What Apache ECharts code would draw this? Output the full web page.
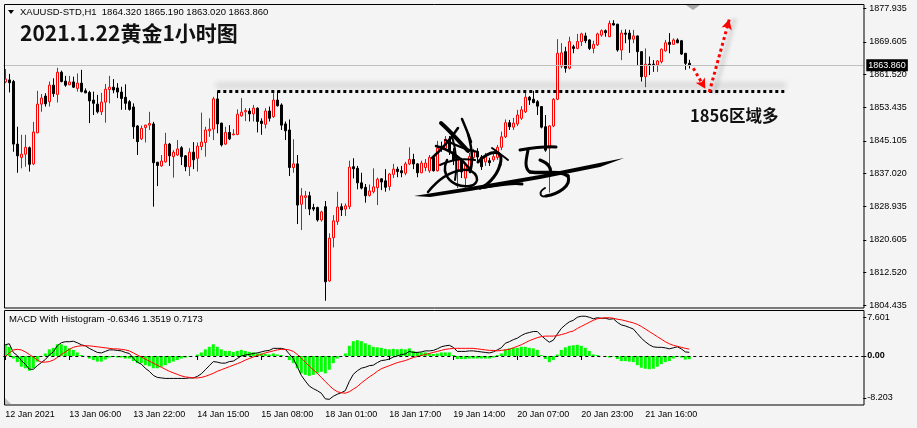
<!DOCTYPE html>
<html><head><meta charset="utf-8">
<script src="https://cdn.jsdelivr.net/npm/echarts@6/dist/echarts.min.js"></script>
<style>html,body{margin:0;padding:0;background:#f4f4f4;}#c{width:917px;height:428px;}</style>
</head><body><div id="c"></div>
<script>
// ---- data ----
const tickLabels = ['12 Jan 2021','13 Jan 06:00','13 Jan 22:00','14 Jan 15:00','15 Jan 08:00','18 Jan 01:00','18 Jan 17:00','19 Jan 14:00','20 Jan 07:00','20 Jan 23:00','21 Jan 16:00'];
const priceTicks = [1877.935,1869.605,1861.520,1853.435,1845.105,1837.020,1828.935,1820.605,1812.520,1804.435];
const macdTicks = [7.601, 0, -8.203];

const opens = [
1859.7,1860.2,1859.8,1844.3,1841.0,1841.8,1843.4,1839.4,1847.1,1854.2,
1856.2,1854.8,1858.9,1856.6,1862.1,1859.9,1859.0,1859.7,1858.1,1859.4,
1857.5,1857.1,1855.2,1854.2,1852.3,1854.7,1857.8,1858.4,1858.2,1857.2,
1855.9,1854.8,1853.5,1848.8,1845.6,1848.4,1849.0,1849.3,1839.8,1838.9,
1839.9,1844.3,1841.2,1841.6,1843.4,1841.4,1838.7,1842.3,1840.8,1843.7,
1844.7,1847.6,1848.0,1855.5,1849.5,1844.3,1847.2,1846.6,1846.7,1851.3,
1852.3,1852.5,1851.8,1853.2,1850.0,1849.2,1852.5,1851.1,1855.2,1854.0,
1849.3,1847.8,1838.5,1839.4,1829.4,1831.1,1831.5,1828.6,1828.6,1825.5,
1828.8,1810.4,1821.1,1825.1,1828.8,1828.2,1828.8,1838.7,1838.3,1834.7,
1833.6,1831.6,1832.5,1833.5,1835.7,1835.2,1833.8,1836.8,1838.1,1837.7,
1837.1,1839.4,1840.5,1839.4,1837.2,1838.5,1837.7,1841.0,1837.7,1843.8,
1843.3,1845.5,1842.4,1837.9,1840.4,1835.9,1838.7,1841.0,1842.3,1841.1,
1839.9,1840.2,1840.4,1841.0,1843.5,1846.1,1849.6,1848.5,1849.3,1850.7,
1852.3,1855.9,1855.4,1854.8,1853.6,1848.6,1843.3,1848.8,1855.4,1863.6,
1867.2,1863.1,1868.4,1868.0,1869.7,1871.1,1870.1,1868.0,1868.9,1871.3,
1872.4,1870.9,1874.2,1874.0,1867.6,1871.8,1871.8,1870.3,1871.1,1867.2,
1861.0,1864.1,1864.1,1863.9,1864.7,1867.4,1869.5,1869.0,1870.1,1869.9,
1866.8,1864.32];
const highs = [
1862.9,1861.7,1860.2,1848.6,1846.6,1846.6,1843.7,1849.8,1857.5,1856.7,
1856.9,1859.8,1860.6,1863.2,1862.5,1861.2,1861.2,1861.0,1861.8,1862.7,
1858.1,1857.5,1857.3,1856.5,1857.0,1859.2,1861.2,1860.4,1859.4,1858.5,
1859.1,1855.2,1854.4,1849.0,1848.9,1849.1,1852.3,1849.8,1839.9,1841.6,
1847.1,1844.6,1842.8,1845.3,1843.8,1841.6,1843.3,1844.8,1844.7,1852.1,
1848.6,1850.7,1856.0,1857.3,1849.6,1848.6,1849.0,1848.0,1852.9,1855.7,
1853.2,1853.2,1854.0,1853.4,1850.7,1853.2,1853.6,1856.9,1857.5,1854.4,
1849.9,1850.4,1845.5,1841.6,1833.4,1832.7,1832.5,1829.5,1828.8,1827.8,
1830.2,1822.2,1826.7,1832.5,1829.6,1829.6,1840.2,1840.8,1838.9,1837.2,
1834.4,1834.3,1838.3,1836.0,1835.8,1838.1,1837.1,1839.4,1838.7,1838.9,
1839.9,1843.5,1841.9,1839.6,1840.2,1840.6,1841.6,1841.6,1845.1,1844.9,
1846.3,1846.3,1843.3,1841.6,1840.9,1839.6,1842.1,1843.1,1843.3,1841.6,
1842.1,1840.9,1842.1,1844.1,1847.4,1850.4,1850.3,1850.8,1852.8,1853.7,
1857.0,1856.2,1857.5,1855.2,1853.7,1851.5,1849.0,1855.7,1870.3,1869.3,
1868.4,1870.9,1868.9,1871.6,1871.9,1871.9,1870.3,1869.9,1871.9,1872.7,
1872.7,1874.9,1875.0,1874.1,1872.6,1872.7,1872.6,1872.6,1871.2,1867.3,
1868.0,1866.0,1865.1,1865.1,1868.0,1870.1,1871.8,1870.5,1870.5,1870.1,
1866.8,1865.19];
const lows = [
1859.4,1857.1,1842.4,1837.2,1838.3,1838.7,1837.5,1839.1,1847.0,1852.3,
1853.6,1853.6,1856.0,1854.6,1859.6,1858.5,1858.9,1858.2,1857.3,1857.1,
1856.9,1849.5,1851.5,1851.9,1851.5,1849.6,1854.4,1856.9,1855.7,1852.8,
1852.8,1852.6,1845.6,1841.6,1845.3,1844.7,1847.8,1828.8,1833.9,1838.7,
1839.7,1838.9,1836.0,1841.4,1839.1,1837.6,1836.4,1838.1,1837.5,1842.8,
1841.2,1846.1,1845.3,1847.0,1843.7,1844.1,1845.3,1846.5,1846.5,1851.1,
1850.0,1849.9,1849.9,1847.2,1846.6,1848.2,1849.9,1850.8,1853.6,1847.8,
1845.3,1836.4,1837.2,1824.5,1823.0,1828.2,1826.7,1827.7,1825.1,1825.1,
1805.5,1810.2,1818.7,1824.3,1826.5,1826.5,1828.2,1835.8,1833.1,1833.1,
1829.8,1831.3,1832.1,1829.2,1832.9,1832.5,1832.8,1835.9,1836.1,1836.1,
1836.6,1839.1,1838.1,1836.1,1837.1,1837.6,1837.2,1837.5,1837.5,1842.4,
1842.8,1841.6,1839.1,1833.4,1835.9,1833.4,1837.9,1840.4,1839.9,1837.9,
1838.9,1838.9,1839.9,1840.4,1842.8,1845.8,1847.8,1847.8,1848.8,1850.3,
1852.0,1854.0,1854.4,1851.5,1848.2,1842.4,1832.3,1848.5,1855.2,1863.1,
1862.0,1862.8,1866.8,1867.8,1868.6,1869.3,1867.6,1866.8,1868.6,1870.9,
1870.9,1870.8,1873.7,1867.2,1865.1,1869.3,1866.9,1869.3,1863.9,1859.8,
1858.4,1861.4,1862.2,1862.2,1864.3,1867.2,1866.8,1868.9,1869.3,1866.4,
1862.7,1863.02];
const closes = [
1860.4,1859.5,1844.3,1841.4,1841.8,1843.5,1839.3,1847.3,1854.2,1855.7,
1854.3,1858.9,1856.8,1862.1,1859.8,1858.9,1859.7,1858.4,1859.4,1857.3,
1857.0,1855.0,1854.4,1852.3,1854.7,1857.9,1858.4,1857.7,1857.2,1855.6,
1854.4,1852.9,1848.6,1844.9,1848.2,1849.0,1849.4,1839.7,1839.0,1840.1,
1844.3,1841.4,1842.3,1843.1,1841.2,1838.7,1842.3,1840.4,1843.8,1844.8,
1847.8,1848.0,1855.5,1849.3,1844.1,1847.2,1845.6,1846.8,1851.7,1852.2,
1852.6,1851.8,1853.2,1849.9,1849.4,1852.5,1850.7,1855.2,1853.8,1849.0,
1847.6,1838.5,1839.4,1829.2,1831.5,1831.5,1828.2,1828.2,1825.5,1827.5,
1810.2,1821.0,1825.3,1828.7,1828.0,1829.0,1838.6,1838.2,1834.7,1833.4,
1831.5,1832.7,1833.7,1835.6,1834.9,1833.6,1836.9,1838.1,1837.5,1837.2,
1839.4,1840.5,1839.4,1837.2,1839.6,1839.6,1841.0,1837.7,1843.3,1843.3,
1845.5,1842.4,1840.4,1840.4,1837.4,1839.1,1841.2,1842.4,1841.1,1838.7,
1841.2,1839.7,1841.2,1843.5,1846.1,1849.6,1848.6,1849.5,1851.5,1852.8,
1855.9,1855.2,1854.6,1853.7,1848.5,1842.8,1848.8,1855.4,1866.8,1866.9,
1863.1,1869.7,1868.0,1869.7,1871.6,1869.9,1868.0,1869.0,1871.6,1872.4,
1871.9,1874.2,1873.8,1867.6,1871.8,1871.5,1870.3,1871.1,1867.2,1861.0,
1864.1,1863.9,1864.0,1864.9,1867.8,1869.4,1869.0,1870.1,1869.4,1866.6,
1864.3,1863.86];
const macdLine = [
2.2,2.4,0.7,0.1,-0.9,-1.6,-2.6,-2.6,-1.9,-1.3,
-0.7,0.2,0.8,2.0,2.6,2.8,2.8,2.9,2.6,2.2,
2.0,1.5,1.1,0.7,0.6,0.9,1.2,1.2,1.1,1.0,
0.7,0.5,-0.4,-1.2,-1.6,-2.4,-3.0,-3.8,-4.2,-4.3,
-4.4,-4.4,-4.4,-4.4,-4.4,-4.4,-4.3,-4.3,-4.0,-3.5,
-2.7,-1.9,-1.1,-1.2,-1.4,-1.4,-1.1,-1.0,-0.5,0.0,
0.2,0.3,0.5,0.6,0.8,1.0,1.1,1.5,1.5,1.5,
1.3,0.4,-0.5,-2.1,-3.8,-4.9,-5.9,-6.4,-6.8,-7.3,
-8.4,-8.5,-7.9,-7.5,-7.2,-6.8,-5.0,-3.6,-2.9,-2.4,
-2.2,-1.9,-1.8,-1.3,-0.9,-0.8,-0.6,-0.2,0.0,0.3,
0.4,0.9,0.7,0.7,0.8,1.0,1.0,1.1,1.4,1.8,
2.0,2.1,1.7,0.9,0.9,0.9,1.0,1.0,0.9,0.8,
0.7,0.6,0.8,1.2,1.6,2.5,2.8,3.2,3.5,4.0,
4.4,4.6,4.8,4.8,4.0,3.3,2.7,3.1,4.3,5.4,
6.1,6.7,7.0,7.6,7.8,7.8,7.6,7.3,7.5,7.4,
7.4,7.2,7.3,6.6,6.1,5.9,5.6,5.3,4.4,3.5,
2.8,2.2,1.8,1.7,1.7,1.6,1.4,1.6,1.8,1.4,
0.8,0.7173];
const signalLine = [
-0.1,0.6,1.2,1.3,1.2,0.8,0.3,-0.2,-0.8,-1.2,
-1.2,-1.1,-0.8,-0.3,0.3,0.8,1.3,1.7,1.9,2.0,
2.0,2.0,1.9,1.8,1.7,1.6,1.5,1.4,1.4,1.3,
1.2,1.0,0.6,0.2,-0.2,-0.6,-1.0,-1.4,-1.8,-2.2,
-2.6,-3.0,-3.3,-3.6,-3.9,-4.1,-4.2,-4.3,-4.3,-4.2,
-4.0,-3.7,-3.4,-3.0,-2.7,-2.4,-2.1,-1.8,-1.5,-1.2,
-0.8,-0.5,-0.2,0.1,0.3,0.6,0.8,1.0,1.2,1.3,
1.3,1.2,0.9,0.3,-0.4,-1.2,-2.0,-2.7,-3.4,-4.2,
-5.0,-5.8,-6.5,-7.0,-7.2,-7.3,-7.0,-6.5,-6.0,-5.3,
-4.7,-4.1,-3.6,-3.0,-2.5,-2.2,-1.9,-1.6,-1.3,-1.1,
-0.9,-0.6,-0.3,-0.1,0.1,0.3,0.5,0.7,0.9,1.1,
1.3,1.4,1.5,1.5,1.5,1.5,1.5,1.5,1.4,1.3,
1.2,1.1,1.1,1.0,1.1,1.2,1.3,1.6,1.9,2.2,
2.6,3.0,3.3,3.6,3.8,3.9,3.9,3.9,4.0,4.2,
4.4,4.7,4.9,5.4,5.8,6.2,6.6,7.0,7.3,7.4,
7.5,7.5,7.4,7.2,7.1,6.9,6.7,6.5,6.2,5.8,
5.3,4.8,4.3,3.8,3.3,2.8,2.4,2.1,1.9,1.7,
1.5,1.3519];
const histogram = [
2.3,1.8,-0.5,-1.2,-2.1,-2.4,-2.9,-2.4,-1.1,-0.1,
0.5,1.3,1.6,2.3,2.3,2.0,1.5,1.2,0.7,0.2,
0,-0.5,-0.8,-1.1,-1.1,-0.7,-0.3,-0.2,-0.3,-0.3,
-0.5,-0.5,-1.0,-1.4,-1.4,-1.8,-2.0,-2.4,-2.4,-2.1,
-1.8,-1.4,-1.1,-0.8,-0.5,-0.3,-0.1,0,0.3,0.7,
1.3,1.8,2.3,1.8,1.3,1.0,1.0,0.8,1.0,1.2,
1.0,0.8,0.7,0.5,0.5,0.4,0.3,0.5,0.3,0.2,
0,-0.8,-1.4,-2.4,-3.4,-3.7,-3.9,-3.7,-3.4,-3.1,
-3.4,-2.7,-1.4,-0.5,0,0.5,2.0,2.9,3.1,2.9,
2.5,2.2,1.8,1.7,1.6,1.4,1.3,1.4,1.3,1.4,
1.3,1.5,1.0,0.8,0.7,0.7,0.5,0.4,0.5,0.7,
0.7,0.7,0.2,-0.6,-0.6,-0.6,-0.5,-0.5,-0.5,-0.5,
-0.5,-0.5,-0.3,0.2,0.5,1.3,1.5,1.6,1.6,1.8,
1.8,1.6,1.5,1.2,0.2,-0.6,-1.2,-0.8,0.3,1.2,
1.7,2.0,2.1,2.2,2.0,1.6,1.0,0.3,0.2,0,
-0.1,-0.3,-0.1,-0.6,-1.0,-1.0,-1.1,-1.2,-1.8,-2.3,
-2.5,-2.6,-2.5,-2.1,-1.6,-1.2,-1.0,-0.5,-0.1,-0.3,
-0.7,-0.6346];
const levelPrice = 1857.4;      // dotted support line
const lastPrice = 1863.86;

// ---- layout ----
const SLOTS = 215, EVERY = 16, N = opens.length;
const categories = Array.from({length: SLOTS}, (_, i) => String(i));
const showTick = (i) => i < N && i % EVERY === 0;
const FONT = 'Liberation Sans';
const candleData = opens.map((o, i) => [o, closes[i], lows[i], highs[i]]);

// handwritten signature strokes (decoration, pixel space)
const sigStrokes = [
  [441,123,450,131,458,140,468,151,4],
  [462,119,465,126,468,133,471,142,2.5],
  [458,128,450,140,441,150,432,158,2.5],
  [436,146,450,150,462,158,470,170,2.5],
  [445,140,455,145,465,150,478,152,2],
  [452,136,456,150,458,165,455,180,2],
  [440,165,450,160,462,158,475,160,2],
  [468,134,472,148,474,160,470,172,2.5],
  [447,160,440,175,452,188,470,186,2.5],
  [470,186,482,184,478,168,462,170,2.5],
  [462,170,448,172,436,182,428,192,2.5],
  [478,162,490,150,505,148,500,165,3],
  [500,165,496,178,486,186,480,188,3],
  [480,188,495,186,510,182,522,184,3],
  [492,148,498,152,503,156,508,160,2],
  [520,150,532,148,545,146,556,147,3],
  [528,150,526,160,524,168,530,172,3],
  [530,172,545,174,560,170,568,176,3.5],
  [568,176,572,186,558,194,546,196,3],
  [546,196,540,198,538,192,545,188,2],
  [540,160,548,163,552,168,550,175,3]
];
const sigGraphics = sigStrokes.map(s => ({
  type: 'bezierCurve', z: 110,
  shape: {x1: s[0], y1: s[1], cpx1: s[2], cpy1: s[3], cpx2: s[4], cpy2: s[5], x2: s[6], y2: s[7]},
  style: {fill: 'none', stroke: '#000', lineWidth: s[8], lineCap: 'round'}
}));
sigGraphics.push({type: 'polygon', z: 110,
  shape: {points: [[414,196],[470,187],[540,175],[624,158],[600,167],[540,179],[470,191],[430,197]]},
  style: {fill: '#000'}});

const chart = echarts.init(document.getElementById('c'), null, {renderer: 'canvas'});
chart.setOption({
  animation: false,
  backgroundColor: '#f4f4f4',
  grid: [
    {left: 3.3, width: 860, top: 4.3, height: 304, show: false},
    {left: 3.3, width: 860, top: 310, height: 95, show: false}
  ],
  xAxis: [
    {type: 'category', gridIndex: 0, data: categories, boundaryGap: true,
     axisLine: {show: false}, axisTick: {show: false}, axisLabel: {show: false}, splitLine: {show: false}},
    {type: 'category', gridIndex: 1, data: categories, boundaryGap: true,
     axisLine: {show: false},
     axisTick: {show: true, alignWithLabel: true, length: 4, interval: (i) => showTick(i), lineStyle: {color: '#000'}},
     axisLabel: {show: true, interval: (i) => showTick(i), align: 'left', margin: 5, fontSize: 9, fontFamily: FONT, color: '#000',
       formatter: (v, i) => showTick(i) ? tickLabels[i / EVERY] : ''},
     splitLine: {show: false}}
  ],
  yAxis: [
    {type: 'value', gridIndex: 0, position: 'right', min: 1803.63, max: 1878.93,
     axisLine: {show: false}, splitLine: {show: false},
     axisTick: {show: true, length: 3, customValues: priceTicks, lineStyle: {color: '#000'}},
     axisLabel: {show: true, customValues: priceTicks, margin: 6, fontSize: 9, fontFamily: FONT, color: '#000',
       formatter: (v) => v.toFixed(3)}},
    {type: 'value', gridIndex: 1, position: 'right', min: -9.61, max: 9.02,
     axisLine: {show: false}, splitLine: {show: false},
     axisTick: {show: true, length: 3, customValues: macdTicks, lineStyle: {color: '#000'}},
     axisLabel: {show: true, customValues: macdTicks, margin: 4, fontSize: 9, fontFamily: FONT, color: '#000',
       formatter: (v) => v === 0 ? '{b|0.00}' : v.toFixed(3), rich: {b: {fontWeight: 'bold', fontSize: 9, fontFamily: FONT}}}}
  ],
  series: [
    {type: 'candlestick', xAxisIndex: 0, yAxisIndex: 0, data: candleData, barWidth: 3,
     itemStyle: {color: '#f4f4f4', color0: '#000000', borderColor: '#ff0000', borderColor0: '#000000', borderWidth: 1},
     markLine: {
       silent: true, symbol: ['none', 'none'], animation: false,
       label: {show: false},
       data: [
         {yAxis: lastPrice, lineStyle: {color: '#c0c0c0', width: 1, type: 'solid'},
          label: {show: true, position: 'end', distance: 3, formatter: '1863.860', backgroundColor: '#000', color: '#fff',
                  fontSize: 9, fontFamily: FONT, padding: [2, 2, 1, 2]}},
         [{coord: [53, levelPrice], lineStyle: {color: '#000', width: 3, type: [3, 3],
            shadowColor: 'rgba(0,0,0,0.45)', shadowBlur: 6, shadowOffsetY: -6}},
          {coord: [195, levelPrice]}],
         [{coord: [172, 1863.1], symbol: 'none', lineStyle: {color: '#ff0000', width: 3, type: [3, 3]}},
          {coord: [175, 1858.0], symbol: 'arrow', symbolSize: [8, 10]}],
         [{coord: [176, 1857.2], symbol: 'none', lineStyle: {color: '#ff0000', width: 3, type: [3, 3],
            shadowColor: 'rgba(0,0,0,0.35)', shadowBlur: 4, shadowOffsetX: 5}},
          {coord: [181, 1875.2], symbol: 'arrow', symbolSize: [8, 10]}]
       ]
     }},
    {type: 'bar', xAxisIndex: 1, yAxisIndex: 1, data: histogram, barWidth: 3, itemStyle: {color: '#00ff00'},
     markLine: {silent: true, symbol: ['none', 'none'], label: {show: false}, animation: false,
       data: [{yAxis: 0, lineStyle: {color: '#000', width: 1, type: [3, 3]}}]}},
    {type: 'line', xAxisIndex: 1, yAxisIndex: 1, data: macdLine, showSymbol: false, symbol: 'none',
     lineStyle: {color: '#000', width: 1}},
    {type: 'line', xAxisIndex: 1, yAxisIndex: 1, data: signalLine, showSymbol: false, symbol: 'none',
     lineStyle: {color: '#ff0000', width: 1}}
  ],
  graphic: [
    {type: 'rect', z: 100, shape: {x: 4.5, y: 4.5, width: 859.5, height: 303.5}, style: {fill: 'none', stroke: '#000', lineWidth: 1}},
    {type: 'rect', z: 100, shape: {x: 4.5, y: 310.5, width: 859.5, height: 94.5}, style: {fill: 'none', stroke: '#000', lineWidth: 1}},
    {type: 'polygon', z: 100, shape: {points: [[8, 10], [14, 10], [11, 14]]}, style: {fill: '#000'}},
    {type: 'text', z: 100, x: 20, y: 12.5, style: {text: 'XAUUSD-STD,H1  1864.320 1865.190 1863.020 1863.860', fill: '#000',
      font: '9.5px "Liberation Sans"', verticalAlign: 'middle'}},
    {type: 'text', z: 100, x: 20, y: 33, style: {text: '2021.1.22黄金1小时图', fill: '#111',
      font: 'bold 21px "Noto Sans CJK SC"', verticalAlign: 'middle'}},
    {type: 'text', z: 100, x: 690, y: 116, style: {text: '1856区域多', fill: '#111',
      font: 'bold 16.5px "Noto Sans CJK SC"', verticalAlign: 'middle'}},
    {type: 'text', z: 100, x: 9, y: 319, style: {text: 'MACD With Histogram -0.6346 1.3519 0.7173', fill: '#000',
      font: '9.5px "Liberation Sans"', verticalAlign: 'middle'}},
    {type: 'polygon', z: 100, shape: {points: [[686, 5], [700, 5], [693, 10]]}, style: {fill: '#a8a8a8'}},
    {type: 'polygon', z: 100, shape: {points: [[5, 398], [5, 404], [11, 404]]}, style: {fill: '#c0c0c0'}}
  ].concat(sigGraphics)
});
</script>
</body></html>
